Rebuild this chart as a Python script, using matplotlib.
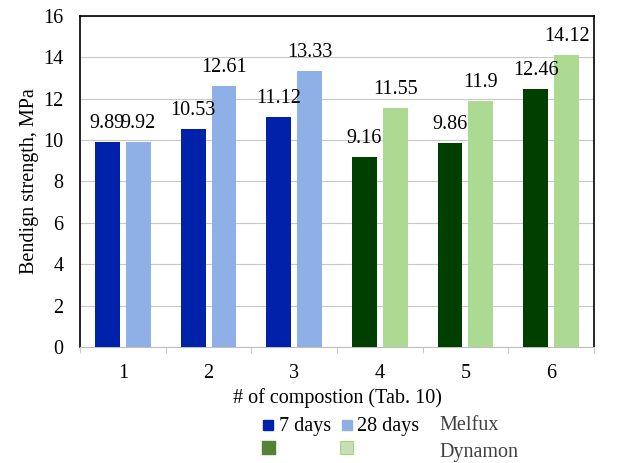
import numpy as np
import matplotlib.pyplot as plt
from matplotlib.patches import Rectangle

plt.rcParams['font.family'] = ['Liberation Serif', 'DejaVu Serif']
plt.rcParams['font.size'] = 14.5

# data
compositions = ['1', '2', '3', '4', '5', '6']
days7 = [9.89, 10.53, 11.12, 9.16, 9.86, 12.46]
days28 = [9.92, 12.61, 13.33, 11.55, 11.9, 14.12]
admixture = ['Melfux', 'Melfux', 'Melfux', 'Dynamon', 'Dynamon', 'Dynamon']

colors = {
    'Melfux': ('#0022AA', '#8FB0E6'),
    'Dynamon': ('#003F00', '#ADDA93'),
}

fig = plt.figure(figsize=(6.17, 4.63), dpi=100)
ax = fig.add_axes([0.1297, 0.2505, 0.833, 0.715])

x = np.arange(len(compositions))
w = 0.29
off = 0.18
c7 = [colors[a][0] for a in admixture]
c28 = [colors[a][1] for a in admixture]
b1 = ax.bar(x - off, days7, w, color=c7, zorder=3)
b2 = ax.bar(x + off, days28, w, color=c28, zorder=3)

for bars, vals in ((b1, days7), (b2, days28)):
    for rect, v in zip(bars, vals):
        ax.text(rect.get_x() + rect.get_width() / 2, v + 0.68, f'{v:g}',
                ha='center', va='baseline')

ax.set_xlim(-0.5, 5.5)
ax.set_ylim(0, 16)
ax.set_yticks(range(0, 17, 2))
ax.set_xticks(x)
ax.set_xticklabels(compositions)
ax.set_xticks(np.arange(-0.5, 6, 1), minor=True)
ax.tick_params(axis='x', which='major', length=0, pad=12)
ax.tick_params(axis='x', which='minor', length=4, color='#BFBFBF')
ax.tick_params(axis='y', length=0, pad=12)
ax.yaxis.grid(True, color='#C8C8C8', linewidth=0.8, zorder=0)
ax.set_axisbelow(True)

for s in ('left', 'top', 'right'):
    ax.spines[s].set_color('black')
    ax.spines[s].set_linewidth(1.2)
ax.spines['bottom'].set_color('#BFBFBF')
ax.spines['bottom'].set_linewidth(0.8)

ax.set_ylabel('Bendign strength, MPa', labelpad=3)
ax.set_xlabel('# of compostion (Tab. 10)', labelpad=4)

# custom legend laid out like the original
def fig_rect(x0, y0, x1, y1, **kw):
    fig.patches.append(Rectangle((x0 / 617, 1 - y1 / 463), (x1 - x0) / 617,
                                 (y1 - y0) / 463, transform=fig.transFigure, **kw))

fig_rect(263, 420, 273, 430, color='#0022AA')
fig_rect(342, 420, 352, 430, color='#8FB0E6')
fig_rect(262, 441, 275, 454, color='#548235')
fig_rect(340, 441, 353, 454, facecolor='#C5E0B4', edgecolor='#A9D18E', linewidth=0.8)
fig.text(279 / 617, 1 - 426 / 463, '7 days', va='center')
fig.text(357 / 617, 1 - 426 / 463, '28 days', va='center')
fig.text(439 / 617, 1 - 426 / 463, 'Melfux', va='center', color='#404040')
fig.text(439 / 617, 1 - 453 / 463, 'Dynamon', va='center', color='#404040')

fig.savefig('out.png', dpi=100)
